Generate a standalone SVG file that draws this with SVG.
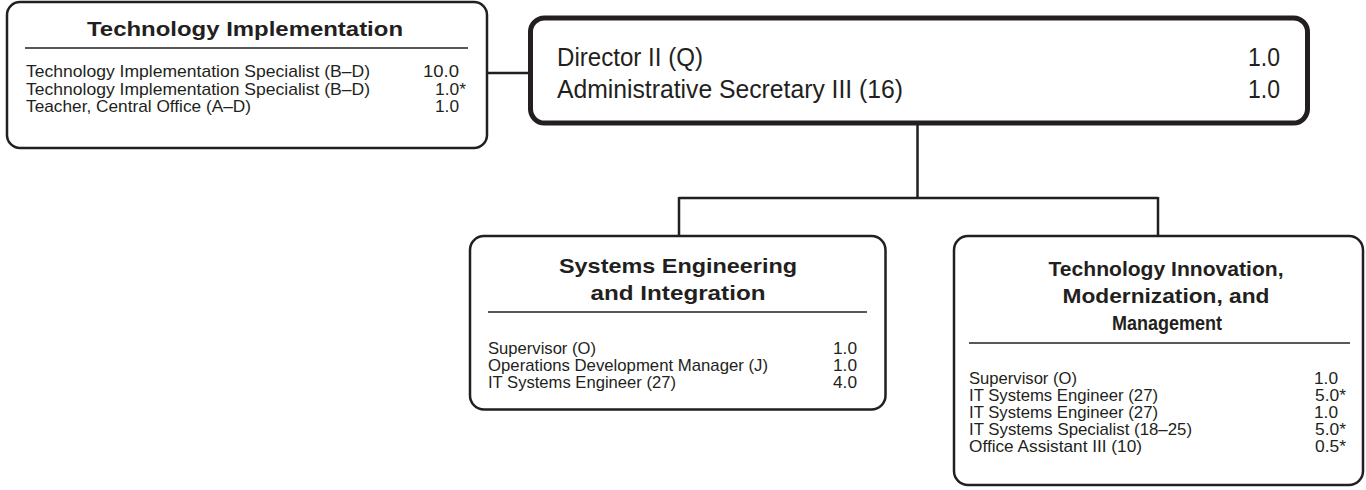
<svg xmlns="http://www.w3.org/2000/svg" width="1366" height="490" viewBox="0 0 1366 490">
<style>
.box{fill:#fff;stroke:#231f20;stroke-width:2.5}
.main{fill:#fff;stroke:#231f20;stroke-width:5}
.rule{stroke:#231f20;stroke-width:1.3}
.conn{fill:none;stroke:#231f20;stroke-width:2.5}
.t{font-family:"Liberation Sans","Open Sans",sans-serif;font-weight:bold;font-size:21px;fill:#231f20;text-anchor:middle}
.r{font-family:"Liberation Sans Narrow","Liberation Sans",sans-serif;font-size:17px;fill:#231f20}
.m{font-family:"Liberation Sans Narrow","Liberation Sans",sans-serif;font-size:25px;fill:#231f20}
.v{text-anchor:end}
</style>
<rect width="1366" height="490" fill="#fff"/>
<g id="connectors">
<line class="conn" x1="487" y1="73" x2="530" y2="73"/>
<path class="conn" d="M917.5 123 V198 M679 198 H1158 M679 197 V236 M1158 197 V236"/>
</g>
<g id="tech-implementation">
<rect class="box" x="7" y="2" width="480" height="146" rx="13"/>
<text class="t" x="245" y="36" textLength="316" lengthAdjust="spacingAndGlyphs">Technology Implementation</text>
<line class="rule" x1="25" y1="48" x2="468" y2="48"/>
<text class="r" x="26" y="77" textLength="344" lengthAdjust="spacingAndGlyphs">Technology Implementation Specialist (B–D)</text>
<text class="r" x="26" y="94.5" textLength="344" lengthAdjust="spacingAndGlyphs">Technology Implementation Specialist (B–D)</text>
<text class="r" x="26" y="112" textLength="225" lengthAdjust="spacingAndGlyphs">Teacher, Central Office (A–D)</text>
<text class="r v" x="459" y="77" textLength="36" lengthAdjust="spacingAndGlyphs">10.0</text>
<text class="r v" x="466" y="94.5" textLength="31" lengthAdjust="spacingAndGlyphs">1.0*</text>
<text class="r v" x="459" y="112" textLength="24" lengthAdjust="spacingAndGlyphs">1.0</text>
</g>
<g id="director">
<rect class="main" x="530.5" y="18" width="777" height="105" rx="14"/>
<text class="m" x="557" y="66" textLength="146" lengthAdjust="spacingAndGlyphs">Director II (Q)</text>
<text class="m" x="557" y="98" textLength="346" lengthAdjust="spacingAndGlyphs">Administrative Secretary III (16)</text>
<text class="m v" x="1280" y="66" textLength="32" lengthAdjust="spacingAndGlyphs">1.0</text>
<text class="m v" x="1280" y="98" textLength="32" lengthAdjust="spacingAndGlyphs">1.0</text>
</g>
<g id="systems-engineering">
<rect class="box" x="470" y="236" width="415.5" height="173.5" rx="14"/>
<text class="t" x="678" y="273" textLength="238" lengthAdjust="spacingAndGlyphs">Systems Engineering</text>
<text class="t" x="678" y="300" textLength="175" lengthAdjust="spacingAndGlyphs">and Integration</text>
<line class="rule" x1="488" y1="312" x2="867" y2="312"/>
<text class="r" x="488" y="354" textLength="108" lengthAdjust="spacingAndGlyphs">Supervisor (O)</text>
<text class="r" x="488" y="371" textLength="280" lengthAdjust="spacingAndGlyphs">Operations Development Manager (J)</text>
<text class="r" x="488" y="388" textLength="188" lengthAdjust="spacingAndGlyphs">IT Systems Engineer (27)</text>
<text class="r v" x="857" y="354" textLength="24" lengthAdjust="spacingAndGlyphs">1.0</text>
<text class="r v" x="857" y="371" textLength="24" lengthAdjust="spacingAndGlyphs">1.0</text>
<text class="r v" x="857" y="388" textLength="24" lengthAdjust="spacingAndGlyphs">4.0</text>
</g>
<g id="tech-innovation">
<rect class="box" x="954" y="236" width="409" height="249" rx="14"/>
<text class="t" x="1166" y="276" textLength="235" lengthAdjust="spacingAndGlyphs">Technology Innovation,</text>
<text class="t" x="1166" y="303" textLength="207" lengthAdjust="spacingAndGlyphs">Modernization, and</text>
<text class="t" x="1167" y="330" textLength="110" lengthAdjust="spacingAndGlyphs">Management</text>
<line class="rule" x1="969" y1="343" x2="1350" y2="343"/>
<text class="r" x="969" y="384" textLength="108" lengthAdjust="spacingAndGlyphs">Supervisor (O)</text>
<text class="r" x="969" y="401" textLength="189" lengthAdjust="spacingAndGlyphs">IT Systems Engineer (27)</text>
<text class="r" x="969" y="418" textLength="189" lengthAdjust="spacingAndGlyphs">IT Systems Engineer (27)</text>
<text class="r" x="969" y="435" textLength="223" lengthAdjust="spacingAndGlyphs">IT Systems Specialist (18–25)</text>
<text class="r" x="969" y="452" textLength="173" lengthAdjust="spacingAndGlyphs">Office Assistant III (10)</text>
<text class="r v" x="1338" y="384" textLength="24" lengthAdjust="spacingAndGlyphs">1.0</text>
<text class="r v" x="1346" y="401" textLength="31" lengthAdjust="spacingAndGlyphs">5.0*</text>
<text class="r v" x="1338" y="418" textLength="24" lengthAdjust="spacingAndGlyphs">1.0</text>
<text class="r v" x="1346" y="435" textLength="31" lengthAdjust="spacingAndGlyphs">5.0*</text>
<text class="r v" x="1346" y="452" textLength="31" lengthAdjust="spacingAndGlyphs">0.5*</text>
</g>
</svg>
